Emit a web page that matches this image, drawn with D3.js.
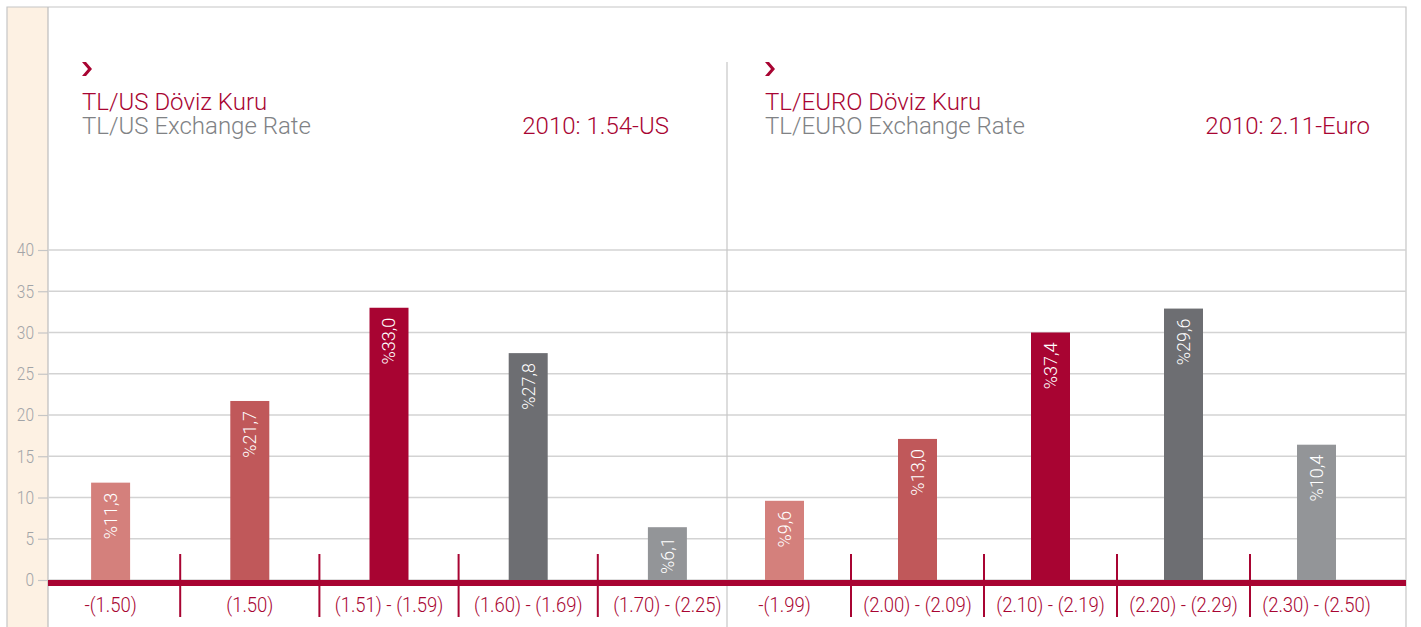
<!DOCTYPE html>
<html>
<head>
<meta charset="utf-8">
<script src="https://cdn.jsdelivr.net/npm/d3@7/dist/d3.min.js"></script>
<style>
  body { margin: 0; background: #fff; }
  svg { display: block; }
</style>
</head>
<body>
<div id="chart"></div>
<script>
// data (bar heights as drawn, labels as printed)
const usCategories = ["-(1.50)", "(1.50)", "(1.51) - (1.59)", "(1.60) - (1.69)", "(1.70) - (2.25)"];
const usValues = [11.8, 21.7, 33.0, 27.5, 6.4];
const usLabels = ["%11,3", "%21,7", "%33,0", "%27,8", "%6,1"];

const euroCategories = ["-(1.99)", "(2.00) - (2.09)", "(2.10) - (2.19)", "(2.20) - (2.29)", "(2.30) - (2.50)"];
const euroValues = [9.6, 17.1, 30.0, 32.9, 16.4];
const euroLabels = ["%9,6", "%13,0", "%37,4", "%29,6", "%10,4"];

const barColors = ["#d4807c", "#c0585a", "#a80432", "#6d6e72", "#939598"];
const yTicks = [0, 5, 10, 15, 20, 25, 30, 35, 40];

const panels = [
  { title: "TL/US Döviz Kuru", subtitle: "TL/US Exchange Rate", note: "2010: 1.54-US",
    categories: usCategories, values: usValues, labels: usLabels },
  { title: "TL/EURO Döviz Kuru", subtitle: "TL/EURO Exchange Rate", note: "2010: 2.11-Euro",
    categories: euroCategories, values: euroValues, labels: euroLabels }
];

const width = 1421, height = 627;
const red = "#a80432";
const frame = { left: 7, top: 7, axis: 48, right: 1406 };
const panelBox = [
  { x0: 48, x1: 727, band: [41, 737], textX: 82, noteX: 669 },
  { x0: 727, x1: 1406, band: [718, 1383], textX: 765, noteX: 1370 }
];

const svg = d3.select("#chart").append("svg")
  .attr("width", width)
  .attr("height", height);

// frame + cream strip
svg.append("rect")
  .attr("x", frame.left).attr("y", frame.top)
  .attr("width", frame.axis - frame.left).attr("height", height - frame.top)
  .attr("fill", "#fdf1e3");
svg.append("path")
  .attr("d", `M${frame.left},${height}V${frame.top}H${frame.right}V${height}`)
  .attr("fill", "none").attr("stroke", "#c6c6c6").attr("stroke-width", 1.2);
svg.append("line")
  .attr("x1", frame.axis).attr("x2", frame.axis)
  .attr("y1", frame.top).attr("y2", height)
  .attr("stroke", "#bdbdbd").attr("stroke-width", 1.2);

const y = d3.scaleLinear().domain([0, 40]).range([580, 250]);

// grid lines
svg.append("g")
  .selectAll("line")
  .data(yTicks)
  .enter().append("line")
  .attr("x1", frame.axis).attr("x2", frame.right)
  .attr("y1", d => y(d)).attr("y2", d => y(d))
  .attr("stroke", "#d3d3d3").attr("stroke-width", 1.3);

// y axis
const yAxis = svg.append("g")
  .attr("transform", `translate(${frame.axis},0)`)
  .call(d3.axisLeft(y).tickValues(yTicks).tickSize(10).tickPadding(4));
yAxis.select(".domain").remove();
yAxis.selectAll(".tick line").attr("stroke", "#c6c6c6").attr("stroke-width", 1.2);
yAxis.selectAll(".tick text")
  .attr("fill", "#a2a4a7")
  .attr("transform", "translate(-14,0) scale(0.86,1)")
  .attr("x", 0)
  .style("font-family", "Roboto")
  .style("font-weight", 300)
  .style("font-size", "18px");

// divider between the two charts
svg.append("line")
  .attr("x1", 727).attr("x2", 727)
  .attr("y1", 62).attr("y2", height)
  .attr("stroke", "#c6c6c6").attr("stroke-width", 1.2);

panels.forEach((p, i) => {
  const box = panelBox[i];
  const x = d3.scaleBand().domain(p.categories).range(box.band);
  const barW = 39;
  const g = svg.append("g");

  // headings
  g.append("path")
    .attr("d", `M${box.textX},62 L${box.textX + 4},62 L${box.textX + 10},69 L${box.textX + 4},76 L${box.textX},76 L${box.textX + 6},69 Z`)
    .attr("fill", red);
  g.append("text")
    .attr("x", box.textX).attr("y", 110)
    .attr("fill", red)
    .style("font-family", "Roboto").style("font-weight", 300).style("font-size", "24px")
    .text(p.title);
  g.append("text")
    .attr("x", box.textX).attr("y", 134)
    .attr("fill", "#808285")
    .style("font-family", "Roboto").style("font-weight", 300).style("font-size", "24px")
    .text(p.subtitle);
  g.append("text")
    .attr("x", box.noteX).attr("y", 134)
    .attr("text-anchor", "end")
    .attr("fill", red)
    .style("font-family", "Roboto").style("font-weight", 300).style("font-size", "24px")
    .text(p.note);

  // bars
  g.selectAll(".bar")
    .data(p.values)
    .enter().append("rect")
    .attr("class", "bar")
    .attr("x", (d, j) => x(p.categories[j]) + x.bandwidth() / 2 - barW / 2)
    .attr("y", d => y(d))
    .attr("width", barW)
    .attr("height", d => y(0) - y(d))
    .attr("fill", (d, j) => barColors[j]);

  // value labels inside bars
  g.selectAll(".val")
    .data(p.values)
    .enter().append("text")
    .attr("class", "val")
    .attr("transform", (d, j) => `translate(${x(p.categories[j]) + x.bandwidth() / 2},${y(d) + 10}) rotate(-90)`)
    .attr("text-anchor", "end")
    .attr("dy", "0.36em")
    .attr("fill", "#fff")
    .style("font-family", "Roboto").style("font-weight", 300).style("font-size", "18px")
    .text((d, j) => p.labels[j]);

  // baseline band
  g.append("rect")
    .attr("x", box.x0).attr("y", y(0))
    .attr("width", box.x1 - box.x0).attr("height", 6)
    .attr("fill", red);

  // category separators
  g.selectAll(".sep")
    .data(p.categories.slice(1))
    .enter().append("line")
    .attr("class", "sep")
    .attr("x1", d => x(d)).attr("x2", d => x(d))
    .attr("y1", 554).attr("y2", 617)
    .attr("stroke", red).attr("stroke-width", 2);

  // category labels
  g.selectAll(".cat")
    .data(p.categories)
    .enter().append("text")
    .attr("class", "cat")
    .attr("transform", d => `translate(${x(d) + x.bandwidth() / 2},612) scale(0.88,1)`)
    .attr("text-anchor", "middle")
    .attr("fill", red)
    .style("font-family", "Roboto").style("font-weight", 300).style("font-size", "21px")
    .text(d => d);
});
</script>
</body>
</html>
